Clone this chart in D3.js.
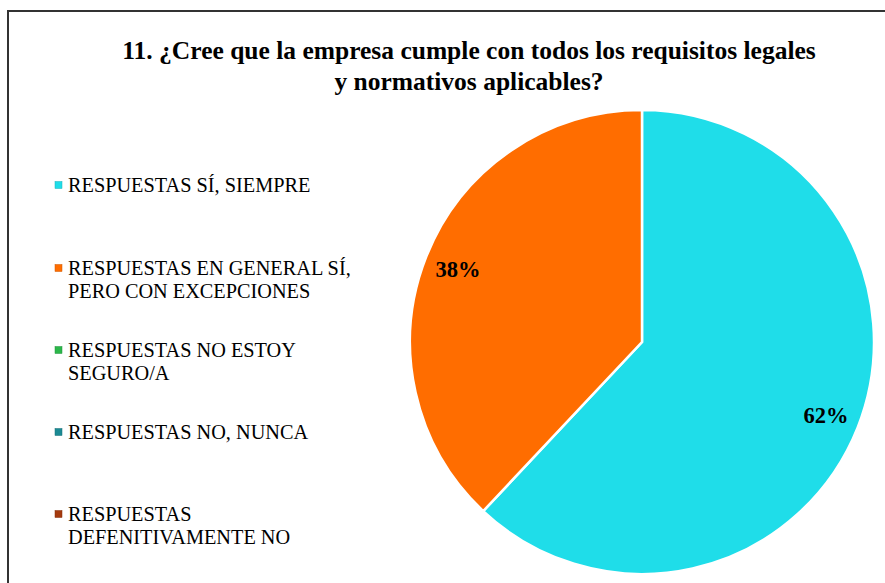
<!DOCTYPE html>
<html>
<head>
<meta charset="utf-8">
<script src="https://cdn.jsdelivr.net/npm/d3@7"></script>
<style>
  body { margin: 0; background: #fff; }
  svg text { font-family: 'Liberation Serif', 'Times New Roman', Tinos, 'DejaVu Serif', serif; }
</style>
</head>
<body>
<svg id="chart" width="885" height="583"></svg>
<script>
const titleLines = ["11. ¿Cree que la empresa cumple con todos los requisitos legales", "y normativos aplicables?"];
const categories = [
  ["RESPUESTAS SÍ, SIEMPRE"],
  ["RESPUESTAS EN GENERAL  SÍ,", "PERO CON EXCEPCIONES"],
  ["RESPUESTAS NO ESTOY", "SEGURO/A"],
  ["RESPUESTAS NO, NUNCA"],
  ["RESPUESTAS", "DEFENITIVAMENTE NO"]
];
const values = [62, 38, 0, 0, 0];
const colors = ["#1FDDE9", "#FF6D00", "#2BB74A", "#1B8A94", "#A53A0E"];

const FONT = "'Liberation Serif', 'Times New Roman', Tinos, serif";
const svg = d3.select("#chart");

// border
svg.append("rect").attr("x", 8).attr("y", 11).attr("width", 900).attr("height", 600)
  .attr("fill", "none").attr("stroke", "#333").attr("stroke-width", 2);

// title
const title = svg.append("text").attr("text-anchor", "middle").attr("font-family", FONT)
  .attr("font-weight", "bold").attr("font-size", 25.5).attr("fill", "#000");
titleLines.forEach((t, i) => {
  title.append("tspan").attr("x", 469).attr("y", 59 + i * 31).text(t);
});

// pie
const cx = 642, cy = 342, R = 232;
const pie = d3.pie().sort(null).value(d => d)(values);
const arc = d3.arc().innerRadius(0).outerRadius(R);
const labelArc = d3.arc().innerRadius(198).outerRadius(198);
const g = svg.append("g").attr("transform", `translate(${cx},${cy})`);
g.selectAll("path").data(pie.filter(d => d.value > 0)).join("path")
  .attr("d", arc)
  .attr("fill", (d) => colors[d.index])
  .attr("stroke", "#fff").attr("stroke-width", 2.5);
g.selectAll("text.lbl").data(pie.filter(d => d.value > 0)).join("text")
  .attr("class", "lbl").attr("font-family", FONT)
  .attr("transform", d => { const c = labelArc.centroid(d); return `translate(${c[0]},${c[1] + 3})`; })
  .attr("text-anchor", "middle").attr("dominant-baseline", "middle")
  .attr("font-weight", "bold").attr("font-size", 22.5).attr("fill", "#000")
  .text(d => d.value + "%");

// legend
const legendY = [185, 268, 350, 432, 514];
const leg = svg.append("g");
categories.forEach((lines, i) => {
  const y = legendY[i];
  leg.append("rect").attr("x", 55).attr("y", y - 3.5).attr("width", 7).attr("height", 7)
    .attr("fill", colors[i]).attr("stroke", d3.color(colors[i]).darker(0.6)).attr("stroke-width", 0.5);
  const t = leg.append("text").attr("font-family", FONT).attr("font-size", 20.3).attr("fill", "#000");
  lines.forEach((ln, j) => {
    t.append("tspan").attr("x", 68).attr("y", y + 7 + j * 23).text(ln);
  });
});
</script>
</body>
</html>
